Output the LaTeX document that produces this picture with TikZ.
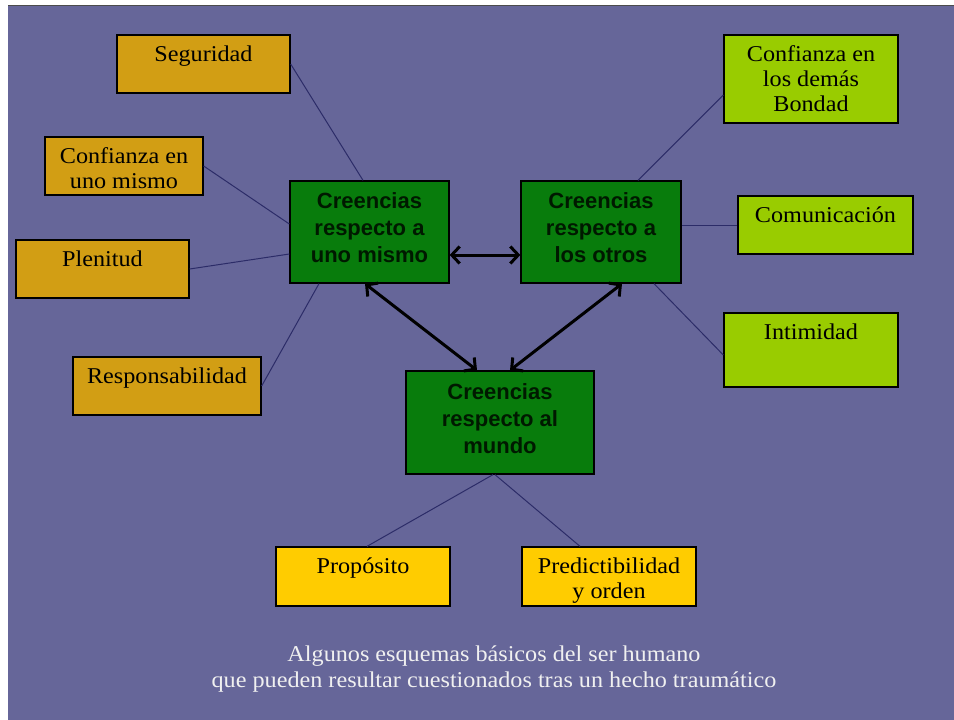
\documentclass[tikz,border=0pt]{standalone}
\usepackage{fontspec}
\setmainfont{Liberation Serif}[FakeStretch=1.07]
\newfontfamily\sansb{Liberation Sans}
\usetikzlibrary{arrows.meta}
\definecolor{bgC}{RGB}{102,102,153}
\definecolor{orangeC}{RGB}{210,158,20}
\definecolor{greenC}{RGB}{8,124,12}
\definecolor{limeC}{RGB}{153,204,0}
\definecolor{yellowC}{RGB}{255,204,0}
\definecolor{linkC}{RGB}{44,44,104}
\definecolor{capC}{RGB}{240,240,240}
\begin{document}
\begin{tikzpicture}[x=1pt,y=-1pt,
  box/.style={draw=black, line width=1.3pt, inner sep=0pt},
  obox/.style={box, fill=orangeC},
  gbox/.style={box, fill=greenC},
  lbox/.style={box, fill=limeC},
  ybox/.style={box, fill=yellowC},
  btext/.style={anchor=north, inner sep=0pt, align=center, yshift=-11.5pt,
    font=\fontsize{22.6}{25}\selectfont},
  gtext/.style={inner sep=0pt, align=center, text=black!90!green,
    font=\sansb\bfseries\fontsize{22}{27}\selectfont},
  captext/.style={anchor=north, inner sep=0pt, align=center, text=capC,
    font=\fontsize{22.6}{26}\selectfont},
  link/.style={draw=linkC, line width=1pt},
  biarrow/.style={draw=black, line width=3pt,
    {Straight Barb[length=8pt,width=17pt]}-{Straight Barb[length=8pt,width=17pt]}}
]
\useasboundingbox (0,0) rectangle (954,720);
\fill[white] (0,0) rectangle (954,720);
\fill[bgC] (8,5) rectangle (954,720);
\draw[black!70, line width=1pt] (8,5.5) -- (954,5.5);

% central green boxes
\node[gbox, minimum width=159pt, minimum height=102pt] (g1) at (369.5,232) {};
\node[gbox, minimum width=160pt, minimum height=102pt] (g2) at (601,232) {};
\node[gbox, minimum width=188pt, minimum height=103pt] (g3) at (500,422.5) {};
\node[gtext] (tg1) at (369.5,228) {Creencias\\respecto a\\uno mismo};
\node[gtext] (tg2) at (601,228) {Creencias\\respecto a\\los otros};
\node[gtext] (tg3) at (500,418.5) {Creencias\\respecto al\\mundo};

% left boxes
\node[obox, minimum width=173pt, minimum height=58pt] (seg) at (203.5,64) {};
\node[obox, minimum width=158pt, minimum height=58pt] (cum) at (124,166) {};
\node[obox, minimum width=173pt, minimum height=58pt] (ple) at (102.5,269) {};
\node[obox, minimum width=188pt, minimum height=58pt] (res) at (167,386) {};
\node[btext] (tseg) at (seg.north) {Seguridad};
\node[btext] (tcum) at (cum.north) {Confianza en\\uno mismo};
\node[btext] (tple) at (ple.north) {Plenitud};
\node[btext] (tres) at (res.north) {Responsabilidad};

% right boxes
\node[lbox, minimum width=174pt, minimum height=88pt] (cdb) at (811,79) {};
\node[lbox, minimum width=175pt, minimum height=58pt] (com) at (825.5,225) {};
\node[lbox, minimum width=174pt, minimum height=74pt] (inti) at (811,350) {};
\node[btext] (tcdb) at (cdb.north) {Confianza en\\los demás\\Bondad};
\node[btext] (tcom) at (com.north) {Comunicación};
\node[btext] (tinti) at (inti.north) {Intimidad};

% bottom boxes
\node[ybox, minimum width=174pt, minimum height=59pt] (pro) at (363,576.5) {};
\node[ybox, minimum width=174pt, minimum height=59pt] (pre) at (609,576.5) {};
\node[btext] (tpro) at (pro.north) {Propósito};
\node[btext] (tpre) at (pre.north) {Predictibilidad\\y orden};

% thin links
\draw[link] (seg.east) -- ([xshift=-6.5pt]g1.north);
\draw[link] (cum.east) -- ([yshift=8pt]g1.west);
\draw[link] (ple.east) -- ([yshift=-22pt]g1.west);
\draw[link] (res.east) -- ([xshift=-50.5pt]g1.south);
\draw[link] ([xshift=37pt]g2.north) -- ([yshift=-16pt]cdb.west);
\draw[link] ([yshift=7pt]g2.east) -- (com.west);
\draw[link] ([xshift=53pt]g2.south) -- ([yshift=-5pt]inti.west);
\draw[link] ([xshift=-7pt]g3.south) -- ([xshift=4pt]pro.north);
\draw[link] ([xshift=-5pt]g3.south) -- ([xshift=-29pt]pre.north);

% thick arrows
\draw[biarrow] ([yshift=-23pt]g1.east) -- ([yshift=-23pt]g2.west);
\draw[biarrow] ([xshift=-4.5pt]g1.south) -- ([xshift=-23pt]g3.north);
\draw[biarrow] ([xshift=21pt]g2.south) -- ([xshift=10pt]g3.north);

% caption
\node[captext] (cap) at (494,646) {Algunos esquemas básicos del ser humano\\que pueden resultar cuestionados tras un hecho traumático};
\end{tikzpicture}
\end{document}
